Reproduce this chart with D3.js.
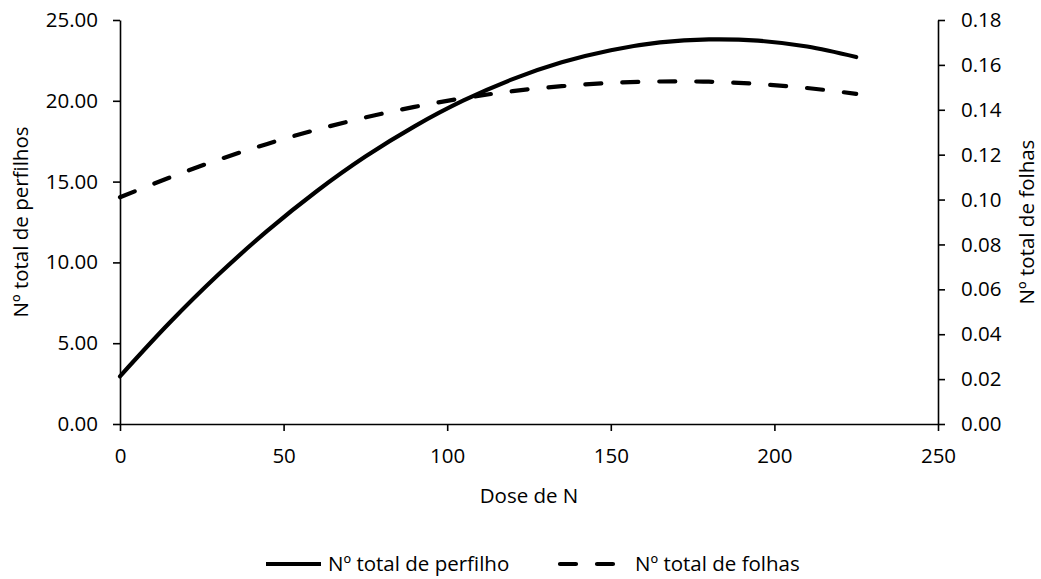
<!DOCTYPE html>
<html><head><meta charset="utf-8">
<script src="https://cdn.jsdelivr.net/npm/d3@7"></script>
<style>
body{margin:0;background:#fff;}
text{font-family:"Open Sans",sans-serif;fill:#000;}
</style></head>
<body><svg id="c" width="1041" height="579"></svg>
<script>
const doses = [0,15,30,45,60,75,90,105,120,135,150,165,180,195,210,225];
const perfilhos = [2.95,6.23,9.23,11.95,14.39,16.55,18.42,20.02,21.34,22.38,23.13,23.61,23.80,23.72,23.36,22.71];
const folhas = [0.1010,0.1097,0.1177,0.1248,0.1311,0.1366,0.1413,0.1452,0.1483,0.1505,0.1520,0.1526,0.1525,0.1515,0.1497,0.1471];
const xTicks = [0,50,100,150,200,250];
const yLeftTicks = [0,5,10,15,20,25];
const yRightTicks = [0,0.02,0.04,0.06,0.08,0.10,0.12,0.14,0.16,0.18];
const seriesNames = ["Nº total de perfilho","Nº total de folhas"];
const xTitle = "Dose de N", yLeftTitle = "Nº total de perfilhos", yRightTitle = "Nº total de folhas";

const FS = 20.5;
const FF = "'Open Sans', sans-serif";
const svg = d3.select("#c");
const L=120, R=938, T=20, B=424;
const x = d3.scaleLinear().domain([0,250]).range([L,R]);
const yl = d3.scaleLinear().domain([0,25]).range([B,T]);
const yr = d3.scaleLinear().domain([0,0.18]).range([B,T]);

function styleAxis(g){
  g.selectAll("path,line").attr("stroke","#000").attr("stroke-width",1.6);
  g.selectAll("text").attr("font-size",FS).attr("fill","#000").attr("font-family",FF);
}
svg.append("g").attr("transform",`translate(0,${B})`)
  .call(d3.axisBottom(x).tickValues(xTicks).tickSize(7).tickPadding(17).tickSizeOuter(0)).call(styleAxis);
svg.append("g").attr("transform",`translate(${L},0)`)
  .call(d3.axisLeft(yl).tickValues(yLeftTicks).tickFormat(d3.format(".2f")).tickSize(7).tickPadding(15).tickSizeOuter(0)).call(styleAxis);
svg.append("g").attr("transform",`translate(${R},0)`)
  .call(d3.axisRight(yr).tickValues(yRightTicks).tickFormat(d3.format(".2f")).tickSize(7).tickPadding(16).tickSizeOuter(0)).call(styleAxis);

const lineL = d3.line().x((d,i)=>x(doses[i])).y(d=>yl(d)).curve(d3.curveCatmullRom);
const lineR = d3.line().x((d,i)=>x(doses[i])).y(d=>yr(d)).curve(d3.curveCatmullRom);
svg.append("path").datum(perfilhos).attr("d",lineL).attr("fill","none").attr("stroke","#000").attr("stroke-width",4.2).attr("stroke-linecap","round");
svg.append("path").datum(folhas).attr("d",lineR).attr("fill","none").attr("stroke","#000").attr("stroke-width",4.2).attr("stroke-linecap","round").attr("stroke-dasharray","16,21");

svg.append("text").attr("x",(L+R)/2).attr("y",503).attr("text-anchor","middle").attr("font-size",FS).text(xTitle);
svg.append("text").attr("transform",`translate(28,${(T+B)/2}) rotate(-90)`).attr("text-anchor","middle").attr("font-size",FS).text(yLeftTitle);
svg.append("text").attr("transform",`translate(1034,${(T+B)/2}) rotate(-90)`).attr("text-anchor","middle").attr("font-size",FS).text(yRightTitle);

// legend
const lg = svg.append("g");
const ly = 564;
lg.append("line").attr("x1",266).attr("x2",321).attr("y1",ly).attr("y2",ly).attr("stroke","#000").attr("stroke-width",4.2);
lg.append("text").attr("x",328).attr("y",ly+7).attr("font-size",FS).text(seriesNames[0]);
lg.append("line").attr("x1",560).attr("x2",615).attr("y1",ly).attr("y2",ly).attr("stroke","#000").attr("stroke-width",4.2).attr("stroke-linecap","round").attr("stroke-dasharray","16,21");
lg.append("text").attr("x",635).attr("y",ly+7).attr("font-size",FS).text(seriesNames[1]);
</script></body></html>
